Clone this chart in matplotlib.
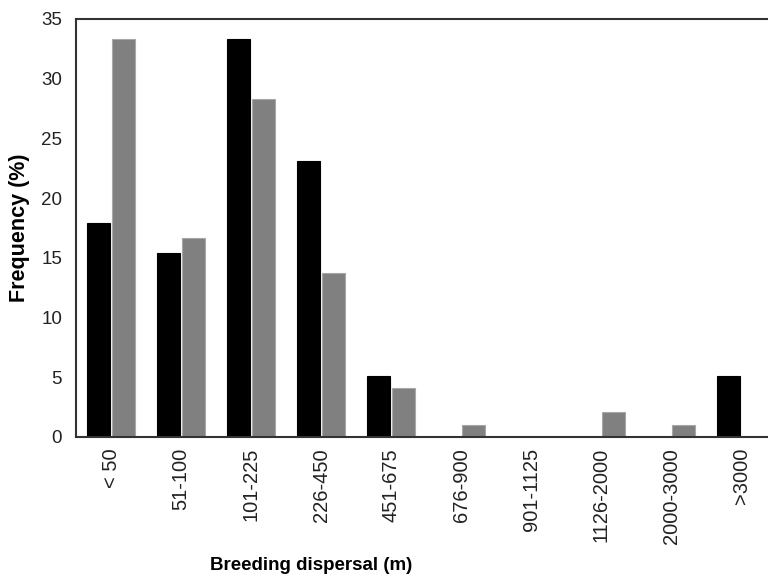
import numpy as np
import matplotlib.pyplot as plt

plt.rcParams['font.family'] = ['Liberation Sans', 'DejaVu Sans']

categories = ['< 50', '51-100', '101-225', '226-450', '451-675', '676-900',
              '901-1125', '1126-2000', '2000-3000', '>3000']
black_values = [17.9, 15.4, 33.3, 23.1, 5.1, 0, 0, 0, 0, 5.1]
gray_values = [33.3, 16.7, 28.3, 13.7, 4.1, 1.0, 0, 2.1, 1.0, 0]

fig = plt.figure(figsize=(7.68, 5.8), dpi=100)
# plot box runs past the right edge of the picture, as in the source
ax = fig.add_axes([0.099, 0.2466, 0.9115, 0.7207])

x = np.arange(len(categories))
w = 0.33
ax.bar(x - w / 2 - 0.01, black_values, w, color='black', edgecolor='black', linewidth=0.8)
ax.bar(x + w / 2 + 0.01, gray_values, w, color='#808080', edgecolor='#a8a8a8', linewidth=0.8)

ax.set_xlim(-0.5, len(categories) - 0.5)
ax.set_ylim(0, 35)
ax.set_yticks(range(0, 36, 5))
ax.set_xticks(x)
ax.set_xticklabels(categories, rotation=90, fontsize=14.5)
ax.tick_params(axis='y', length=0, labelsize=13.5, pad=10, labelcolor='#222222')
ax.tick_params(axis='x', length=0, pad=8, labelcolor='#222222')

for side in ['left', 'top', 'bottom']:
    ax.spines[side].set_linewidth(1.5)
    ax.spines[side].set_color('#333333')

ax.set_ylabel('Frequency (%)', fontsize=15.5, weight='bold', labelpad=8)
ax.set_xlabel('Breeding dispersal (m)', fontsize=13.5, weight='bold')
ax.xaxis.set_label_coords(0.336, -0.288)

fig.savefig('out.png', dpi=100)
